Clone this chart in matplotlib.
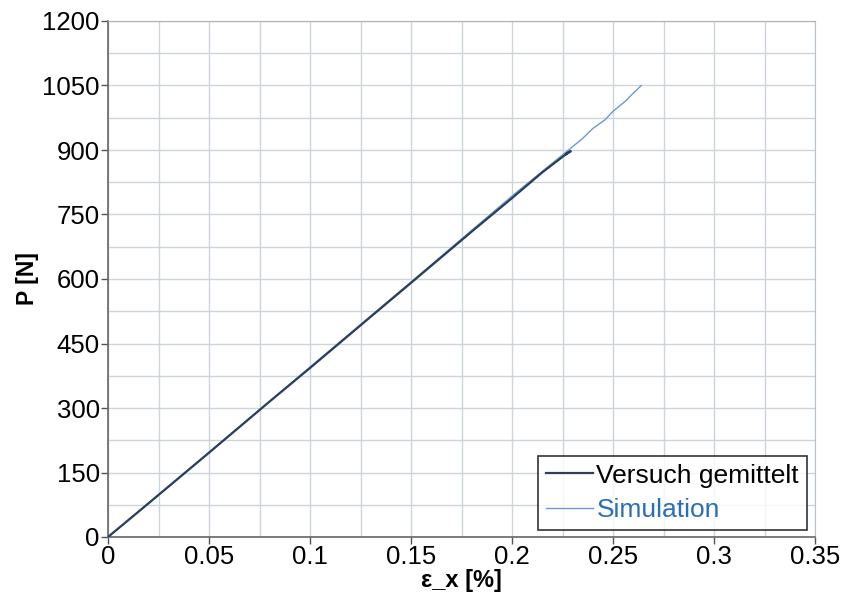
import matplotlib
matplotlib.use("Agg")
import matplotlib.pyplot as plt
from matplotlib.ticker import MultipleLocator

plt.rcParams['font.family'] = ['Liberation Sans', 'DejaVu Sans']

# Measured load vs. strain (averaged test)
versuch_strain = [0.0, 0.02, 0.05, 0.08, 0.1, 0.13, 0.15, 0.18, 0.2, 0.215, 0.225, 0.2285, 0.2265, 0.229]
versuch_load = [0, 78, 196, 315, 393, 512, 591, 710, 788, 848, 884, 896, 890, 897]

# FE simulation
sim_strain = [0.0, 0.05, 0.1, 0.15, 0.2, 0.228, 0.235, 0.24, 0.246, 0.25, 0.256, 0.26, 0.264]
sim_load = [0, 197, 395, 593, 793, 900, 927, 950, 970, 990, 1013, 1032, 1050]

x_ticks = [0, 0.05, 0.1, 0.15, 0.2, 0.25, 0.3, 0.35]
x_ticklabels = ["0", "0.05", "0.1", "0.15", "0.2", "0.25", "0.3", "0.35"]
y_ticks = [0, 150, 300, 450, 600, 750, 900, 1050, 1200]

fig = plt.figure(figsize=(8.47, 6.03), dpi=100)
ax = fig.add_axes([108 / 847, 1 - 537 / 603, (815 - 108) / 847, (537 - 21) / 603])

ax.set_xlim(0, 0.35)
ax.set_ylim(0, 1200)

ax.xaxis.set_minor_locator(MultipleLocator(0.025))
ax.yaxis.set_minor_locator(MultipleLocator(75))
ax.set_xticks(x_ticks)
ax.set_xticklabels(x_ticklabels)
ax.set_yticks(y_ticks)
ax.set_yticklabels([str(v) for v in y_ticks])

grid_col = "#ccd5db"
ax.grid(True, which="both", color=grid_col, linewidth=1.0)
ax.set_axisbelow(True)

ax.plot(sim_strain, sim_load, color="#6b9ad4", linewidth=1.0, label="Simulation", zorder=3)
ax.plot(versuch_strain, versuch_load, color="#2b3f5c", linewidth=1.6, label="Versuch gemittelt", zorder=4)

ax.tick_params(axis="both", which="major", direction="out", length=5, width=1,
               color="#555555", labelsize=18.5, pad=1)
ax.tick_params(axis="both", which="minor", length=0)

for side in ("left", "bottom"):
    ax.spines[side].set_color("#666666")
    ax.spines[side].set_linewidth(1.2)
ax.spines["top"].set_color("#b8aea8")
ax.spines["right"].set_color("#b8c4cc")

ax.set_xlabel("ε_x [%]", fontsize=17, fontweight="bold", labelpad=0)
ax.set_ylabel("P [N]", fontsize=16.5, fontweight="bold", labelpad=2)

handles, labels = ax.get_legend_handles_labels()
leg = ax.legend(handles[::-1], labels[::-1], loc="lower right",
                bbox_to_anchor=(807 / 847, 1 - 530 / 603), bbox_transform=fig.transFigure,
                fontsize=19, frameon=True, fancybox=False, edgecolor="black",
                handlelength=1.75, handletextpad=0.15, borderpad=0.3, labelspacing=0.4,
                borderaxespad=0)
leg.get_frame().set_linewidth(1.2)
leg.get_texts()[1].set_color("#2a6ebb")

fig.savefig("out.png", dpi=100)
